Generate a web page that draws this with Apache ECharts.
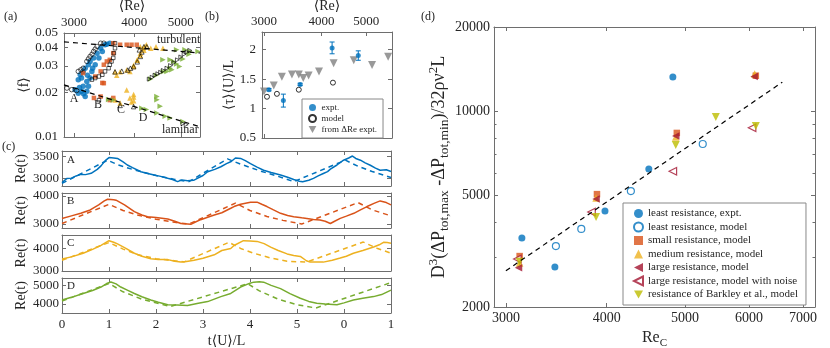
<!DOCTYPE html>
<html>
<head>
<meta charset="utf-8">
<script src="https://cdn.jsdelivr.net/npm/echarts@6/dist/echarts.min.js"></script>
<style>
  html, body { margin: 0; padding: 0; background: #fff; }
  #chart { width: 830px; height: 348px; }
</style>
</head>
<body>
<div id="chart"></div>
<script>
// ---------- panel (a): <f> vs <Re>, log-log ----------
const aExptA = [[3015,0.0208],[3062,0.0197],[3110,0.0203],[3135,0.0219],[3190,0.0203],[3165,0.0187],[3215,0.0219],
  [3062,0.0243],[3090,0.0262],[3110,0.0249],[3135,0.0276],[3165,0.029],[3190,0.0236],[3215,0.0306],[3240,0.0322],
  [3240,0.0249],[3268,0.0276],[3295,0.034],[3320,0.0306],[3350,0.0366],[3380,0.034],[3408,0.0395],[3435,0.0376],
  [3480,0.0417],[3510,0.042],[3560,0.0427],[3140,0.0195],[3080,0.0215],[3200,0.026],[3280,0.029]];
const aModelA = [[2900,0.0213],[2967,0.0208],[3038,0.0205],[3062,0.0276],[3135,0.029],[3190,0.0322],[3240,0.0348],
  [3295,0.0376],[3350,0.0406],[3408,0.0427],[3460,0.0427],[3100,0.0283],[3215,0.0335],[3270,0.036],[3320,0.039]];
const aExptB = [[3620,0.0427],[3740,0.0417],[3860,0.0417],[3950,0.0417],[4050,0.0417],[3620,0.0366],[3560,0.033],
  [3510,0.0322],[3460,0.0306],[3408,0.0276],[3320,0.0255],[3435,0.0231],[3408,0.0187],[3560,0.0177],[3300,0.0183],
  [3620,0.0183],[3135,0.0269],[3460,0.023]];
const aModelB = [[3268,0.0243],[3320,0.0249],[3380,0.0255],[3435,0.0262],[3480,0.0276],[3540,0.029],[3560,0.0306],
  [3590,0.0322],[3620,0.034],[3630,0.0366],[3650,0.0395],[3650,0.0427],[3380,0.0177]];
const aExptC = [[4175,0.0395],[4240,0.0417],[4330,0.0395],[4590,0.0395],[4120,0.0404],[4200,0.0404],[4440,0.0404],
  [4120,0.0366],[4060,0.033],[3990,0.0298],[3920,0.0276],[3650,0.0274],[3680,0.026],[3740,0.0274],[3860,0.0282],
  [3990,0.0304],[4060,0.0328],[4120,0.0355],[4190,0.0383],[3860,0.0207],[3990,0.0186],[3950,0.0172],[3920,0.0183],
  [3990,0.0193],[3650,0.0177],[3740,0.0169],[3990,0.0175]];
const aModelC = [[3650,0.0274],[3770,0.0277],[3880,0.0282],[3990,0.0297],[4060,0.032],[4120,0.0348],[4150,0.0373],
  [4190,0.0404],[4250,0.0404],[3740,0.0163],[3990,0.016],[4100,0.0385],[3930,0.029]];
const aExptD = [[4900,0.0386],[5100,0.0386],[5220,0.0376],[5430,0.0376],[4590,0.033],[4750,0.033],[4830,0.0322],
  [4970,0.0298],[4790,0.0283],[4680,0.0276],[4460,0.0187],[4460,0.0178],[4530,0.0161],[4750,0.0134],[4640,0.0138],
  [4240,0.0153],[4150,0.0156],[3540,0.0179],[3620,0.0177],[4460,0.0145],[5050,0.0127],
  [4330,0.0245],[4450,0.026],[4600,0.0275],[4750,0.029],[4900,0.031],[5050,0.0335],[5200,0.036]];
const aModelD = [[4300,0.0245],[4360,0.0252],[4420,0.026],[4480,0.0266],[4540,0.0272],[4600,0.028],[4680,0.029],
  [4760,0.0302],[4840,0.0316],[4920,0.033],[5000,0.0345],[5080,0.036],[5150,0.0372],[5220,0.0382],
  [5050,0.0123],[5130,0.0121]];
const aTurbulent = [[2860,0.0436],[5480,0.0367]];
const aLaminar = [[2860,0.0224],[5480,0.0117]];
const aTicksX = [3000,4000,5000];
const aTicksY = [0.01,0.02,0.03,0.04,0.05];

// ---------- panel (b): <tau><U>/L vs <Re> ----------
const bExpt = [[3075,1.32,0.02],[3305,1.135,0.11],[3594,1.41,0.02],[4217,2.03,0.1],[4807,1.9,0.08]];
const bModel = [[3045,1.2],[3200,1.25],[3570,1.32],[4235,1.44]];
const bFromDRe = [[3000,1.29],[3150,1.39],[3280,1.54],[3450,1.58],[3570,1.58],[3650,1.52],[3750,1.56],
  [3950,1.63],[4250,1.77],[4700,1.82],[5150,1.74],[5580,1.88]];
const bTicksY = [0.5,1,1.5,2];

// ---------- panel (c): Re(t) traces ----------
const cSolidA = [[0,2900],[0.1,2990],[0.2,3000],[0.3,3050],[0.4,3085],[0.5,3080],[0.62,3110],[0.75,3200],[0.83,3280],
  [0.92,3400],[1.0,3470],[1.1,3460],[1.18,3450],[1.3,3370],[1.39,3300],[1.5,3240],[1.68,3145],[1.8,3110],[1.96,3070],
  [2.1,3040],[2.25,2995],[2.35,2970],[2.46,2920],[2.55,2960],[2.67,2940],[2.8,2950],[2.88,2995],[3.0,3060],[3.1,3145],
  [3.25,3200],[3.38,3260],[3.5,3330],[3.6,3380],[3.69,3460],[3.8,3450],[3.9,3400],[4.01,3330],[4.15,3250],[4.29,3180],
  [4.45,3130],[4.65,3070],[4.8,3020],[4.93,2970],[5.05,2930],[5.12,2915],[5.25,2950],[5.35,2995],[5.45,3050],
  [5.56,3105],[5.65,3150],[5.71,3205],[5.85,3300],[5.99,3410],[6.1,3460],[6.18,3505],[6.25,3450],[6.35,3410],
  [6.45,3350],[6.56,3295],[6.67,3230],[6.77,3180],[6.9,3190],[7,3150]];
const cDashA = [[0,2880],[0.97,3410],[1.2,3300],[1.5,3200],[2.0,3060],[2.4,2970],[2.7,2920],[3.52,3440],[3.8,3320],
  [4.2,3170],[4.6,3040],[4.93,2920],[6.03,3410],[6.3,3270],[6.6,3150],[7,3015]];
const cSolidB = [[0,3200],[0.2,3290],[0.4,3380],[0.6,3500],[0.78,3680],[0.9,3820],[0.97,3880],[1.1,3860],[1.15,3845],
  [1.33,3680],[1.54,3440],[1.7,3320],[1.82,3260],[2.0,3230],[2.25,3180],[2.4,3100],[2.53,3020],[2.74,2990],[2.85,3080],
  [2.95,3155],[3.1,3240],[3.24,3320],[3.4,3400],[3.59,3560],[3.66,3620],[3.8,3700],[4.01,3770],[4.15,3775],[4.25,3700],
  [4.36,3620],[4.5,3500],[4.65,3380],[4.8,3300],[4.93,3260],[5.1,3220],[5.21,3200],[5.35,3160],[5.49,3140],[5.6,3100],
  [5.71,3020],[5.8,3100],[5.92,3200],[6.05,3280],[6.21,3380],[6.35,3500],[6.49,3620],[6.65,3740],[6.77,3820],
  [6.9,3760],[7,3680]];
const cDashB = [[0,3020],[1.0,3700],[1.3,3480],[1.6,3320],[2.0,3170],[2.4,3060],[2.7,3000],[3.69,3740],[4.0,3480],
  [4.36,3270],[4.7,3130],[5.1,3000],[6.3,3760],[6.6,3500],[7,3290]];
const cSolidC = [[0,3530],[0.2,3620],[0.45,3780],[0.65,3950],[0.83,4125],[1.0,4330],[1.1,4260],[1.18,4190],[1.35,4000],
  [1.54,3780],[1.7,3650],[1.89,3540],[2.05,3510],[2.25,3500],[2.4,3430],[2.53,3390],[2.65,3420],[2.81,3470],[3.0,3560],
  [3.24,3710],[3.4,3900],[3.59,3990],[3.66,4120],[3.86,4330],[4.0,4320],[4.15,4300],[4.3,4200],[4.44,4050],[4.6,3900],
  [4.79,3750],[4.93,3680],[5.07,3640],[5.2,3450],[5.28,3390],[5.45,3390],[5.56,3390],[5.75,3470],[5.92,3570],
  [6.05,3650],[6.2,3780],[6.4,3900],[6.63,4055],[6.75,4150],[6.84,4260],[6.92,4250],[7,4220]];
const cDashC = [[0,3470],[1.0,4250],[1.3,3960],[1.6,3720],[2.0,3540],[2.6,3400],[3.55,4260],[3.8,3990],[4.08,3780],
  [4.44,3570],[4.79,3430],[5.2,3390],[6.41,4270],[6.7,4000],[7,3780]];
const cSolidD = [[0,4210],[0.2,4350],[0.45,4560],[0.65,4720],[0.83,4910],[0.95,5100],[1.04,5180],[1.15,5080],
  [1.25,4910],[1.4,4730],[1.54,4560],[1.7,4380],[1.89,4210],[2.05,4080],[2.25,3950],[2.45,3930],[2.67,3910],[2.9,4030],
  [3.1,4120],[3.38,4390],[3.59,4560],[3.8,4910],[4.0,5120],[4.08,5175],[4.2,5190],[4.29,5175],[4.45,5000],[4.65,4825],
  [4.85,4550],[5.07,4300],[5.25,4130],[5.42,4035],[5.6,3990],[5.85,3950],[6.0,4050],[6.2,4210],[6.4,4300],[6.63,4390],
  [6.8,4500],[7,4740]];
const cDashD = [[0,4150],[1.0,5100],[1.3,4650],[1.7,4250],[2.3,3850],[3.95,5090],[4.2,4700],[4.6,4250],[5.0,3950],
  [5.4,3770],[7,5150]];
const cTicksA = [3000,3500], cTicksB = [3000,4000], cTicksC = [3000,4000], cTicksD = [4000,5000];

// ---------- panel (d): pressure amplitude vs Re_C ----------
const dLeastExpt = [[3140,3525],[3450,2780],[3980,4400],[4510,6220],[4830,13270]];
const dLeastModel = [[3460,3300],[3720,3800],[4285,5190],[5260,7640]];
const dSmallModel = [[3120,3040],[3890,5060],[4885,8370],[6120,13400]];
const dMediumModel = [[3120,2870],[3880,4900],[4870,8100],[6100,13600]];
const dLargeModel = [[3110,2760],[3880,4860],[4870,8160],[6090,13300]];
const dLargeNoise = [[3100,2970],[3830,4370],[4830,6110],[6055,8730]];
const dBarkley = [[3120,2900],[3880,4190],[4870,7580],[5460,9540],[6120,8860]];
const dFit = [[3000,2695],[6600,12700]];
const dTicksX = [3000,4000,5000,6000,7000];
const dTicksY = [2000,5000,10000,20000];
const dMinorY = [3000,4000,6000,7000,8000,9000];

const FONT = "'Liberation Serif','DejaVu Serif',serif";
const AX = '#6e6e6e';
const TXT = '#262626';
const BLUE = '#0072BD', ORANGE = '#D95319', YELLOW = '#EDB120', GREEN = '#77AC30', RED = '#A2142F', OLIVE = '#BDBD00';
const TRI_R = 'path://M0,0L10,5L0,10Z';
const TRI_L = 'path://M10,0L0,5L10,10Z';
const TRI_D = 'path://M0,0L10,0L5,9Z';
const lg = Math.log10;
const logPts = (arr) => arr.map((p) => [lg(p[0]), lg(p[1])]);
const logX = (arr) => arr.map((p) => [lg(p[0]), p[1]]);
const plain = (v) => String(v);
const pow10 = (v) => String(Math.round(Math.pow(10, v)));

const xAxes = [], yAxes = [];
function axis(list, grid, position, min, max, o) {
  o = o || {};
  list.push({
    type: 'value', gridIndex: grid, position: position, min: min, max: max,
    interval: o.interval,
    axisLine: { show: o.line !== false, onZero: false, lineStyle: { color: AX, width: 1 } },
    axisTick: { show: true, inside: true, length: o.tickLen || 4, lineStyle: { color: AX }, customValues: o.ticks },
    axisLabel: {
      show: !!o.labels, customValues: Array.isArray(o.labels) ? o.labels : undefined,
      formatter: o.fmt || plain, color: TXT, fontFamily: FONT, fontSize: o.fs || 13, margin: o.margin || 5,
      hideOverlap: false, showMinLabel: true, showMaxLabel: true,
    },
    splitLine: { show: false },
    name: o.name, nameLocation: 'middle', nameGap: o.nameGap, nameRotate: o.nameRotate,
    nameTextStyle: Object.assign({ fontFamily: FONT, fontSize: 14, color: TXT }, o.nameStyle || {}),
  });
  return list.length - 1;
}

const grids = [
  { left: 64, top: 33, width: 136, height: 104 },
  { left: 262, top: 32, width: 130, height: 106 },
  { left: 62, top: 151, width: 329, height: 35 },
  { left: 62, top: 193, width: 329, height: 35 },
  { left: 62, top: 235, width: 329, height: 36 },
  { left: 62, top: 278, width: 329, height: 35 },
  { left: 494, top: 27, width: 321, height: 280 },
];

// (a)
const aXmin = lg(2860), aXmax = lg(5480);
const axA = axis(xAxes, 0, 'top', aXmin, aXmax, { ticks: aTicksX.map(lg), labels: aTicksX.map(lg),
  fmt: pow10, margin: 4, name: '⟨Re⟩', nameGap: 20 });
axis(xAxes, 0, 'bottom', aXmin, aXmax, { ticks: aTicksX.map(lg) });
const ayA = axis(yAxes, 0, 'left', lg(0.01), lg(0.05), { ticks: aTicksY.map(lg), labels: aTicksY.map(lg),
  fmt: (v) => Math.pow(10, v).toFixed(2), margin: 6, name: '⟨f⟩', nameGap: 30, nameRotate: 90 });
axis(yAxes, 0, 'right', lg(0.01), lg(0.05), { ticks: aTicksY.map(lg) });

// (b)
const bXmin = lg(2970), bXmax = lg(5690);
const axB = axis(xAxes, 1, 'top', bXmin, bXmax, { ticks: aTicksX.map(lg), labels: aTicksX.map(lg),
  fmt: pow10, margin: 4, name: '⟨Re⟩', nameGap: 19 });
axis(xAxes, 1, 'bottom', bXmin, bXmax, { ticks: aTicksX.map(lg) });
const ayB = axis(yAxes, 1, 'left', 0.5, 2.3, { ticks: bTicksY, labels: bTicksY, margin: 6,
  name: '⟨τ⟩⟨U⟩/L', nameGap: 25, nameRotate: 90 });
axis(yAxes, 1, 'right', 0.5, 2.3, { ticks: bTicksY });

// (c)
const cRanges = [[2820, 3620, cTicksA], [2860, 4100, cTicksB], [3000, 4580, cTicksC], [3500, 5400, cTicksD]];
const cAx = cRanges.map((r, i) => {
  const g = 2 + i;
  const last = i === 3;
  const xi = axis(xAxes, g, 'bottom', 0, 7, { interval: 1, labels: last, margin: 5,
    fmt: (v) => String(v > 5 ? v - 6 : v),
    name: last ? 't⟨U⟩/L' : undefined, nameGap: 21 });
  axis(xAxes, g, 'top', 0, 7, { interval: 1 });
  const yi = axis(yAxes, g, 'left', r[0], r[1], { ticks: r[2], labels: r[2], margin: 3,
    name: 'Re(t)', nameGap: 34, nameRotate: 90 });
  axis(yAxes, g, 'right', r[0], r[1], { ticks: r[2] });
  return [xi, yi];
});

// (d)
const dXmin = lg(2900), dXmax = lg(7245), dYmin = lg(2000), dYmax = lg(20000);
const axD = axis(xAxes, 6, 'bottom', dXmin, dXmax, { ticks: dTicksX.map(lg), labels: dTicksX.map(lg), fs: 14,
  fmt: pow10, margin: 4,
  name: '{t|Re}{b|C}', nameGap: 17,
  nameStyle: { rich: {
    t: { fontFamily: FONT, fontSize: 16, color: TXT, lineHeight: 22 },
    b: { fontFamily: FONT, fontSize: 11, color: TXT, verticalAlign: 'bottom', lineHeight: 12 } } } });
axis(xAxes, 6, 'top', dXmin, dXmax, { ticks: dTicksX.map(lg) });
const ayD = axis(yAxes, 6, 'left', dYmin, dYmax, { ticks: dTicksY.map(lg), labels: dTicksY.map(lg), fs: 14,
  fmt: pow10, margin: 4,
  name: '{t|D}{p|3}{t|(ΔP}{b|tot,max}{t| -ΔP}{b|tot,min}{t|)/32ρν}{p|2}{t|L}', nameGap: 38, nameRotate: 90,
  nameStyle: { rich: {
    t: { fontFamily: FONT, fontSize: 18, color: TXT, lineHeight: 24 },
    p: { fontFamily: FONT, fontSize: 13, color: TXT, verticalAlign: 'top', lineHeight: 13 },
    b: { fontFamily: FONT, fontSize: 13.5, color: TXT, verticalAlign: 'bottom', lineHeight: 13 } } } });
axis(yAxes, 6, 'right', dYmin, dYmax, { ticks: dTicksY.map(lg) });
axis(yAxes, 6, 'left', dYmin, dYmax, { ticks: dMinorY.map(lg), tickLen: 2.5, line: false });
axis(yAxes, 6, 'right', dYmin, dYmax, { ticks: dMinorY.map(lg), tickLen: 2.5, line: false });

function scatter(name, xi, yi, data, symbol, size, style, z) {
  return { name: name, type: 'scatter', xAxisIndex: xi, yAxisIndex: yi, data: data, symbol: symbol,
    symbolSize: size, itemStyle: style, z: z || 2, silent: true };
}
function line(xi, yi, data, color, dashed, width) {
  return { type: 'line', xAxisIndex: xi, yAxisIndex: yi, data: data, showSymbol: false, silent: true,
    lineStyle: { color: color, width: width || 1.5, type: dashed ? [5, 4] : 'solid' } };
}
const openBlack = { color: 'rgba(0,0,0,0)', borderColor: '#000', borderWidth: 0.8 };

const series = [
  // (a)
  line(axA, ayA, logPts(aTurbulent), '#000', true, 1.2),
  line(axA, ayA, logPts(aLaminar), '#000', true, 1.2),
  scatter(null, axA, ayA, logPts(aExptA), 'circle', 5.5, { color: BLUE }),
  scatter(null, axA, ayA, logPts(aExptB), 'rect', 4.5, { color: ORANGE }),
  scatter(null, axA, ayA, logPts(aExptC), 'triangle', 5.5, { color: YELLOW }),
  scatter(null, axA, ayA, logPts(aExptD), TRI_R, 5.5, { color: GREEN }),
  scatter(null, axA, ayA, logPts(aModelA), 'circle', 4.5, openBlack, 3),
  scatter(null, axA, ayA, logPts(aModelB), 'rect', 3.5, openBlack, 3),
  scatter(null, axA, ayA, logPts(aModelC), 'triangle', 4.5, openBlack, 3),
  scatter(null, axA, ayA, logPts(aModelD), TRI_R, 4, openBlack, 3),
  // (b)
  {
    type: 'custom', xAxisIndex: axB, yAxisIndex: ayB, silent: true, z: 2,
    data: bExpt.map((p) => [lg(p[0]), p[1], p[2]]),
    renderItem: function (params, api) {
      const x = api.value(0), y = api.value(1), e = api.value(2);
      const t = api.coord([x, y + e]), b = api.coord([x, y - e]);
      const st = { stroke: BLUE, lineWidth: 1 };
      return { type: 'group', children: [
        { type: 'line', shape: { x1: t[0], y1: t[1], x2: b[0], y2: b[1] }, style: st },
        { type: 'line', shape: { x1: t[0] - 2.5, y1: t[1], x2: t[0] + 2.5, y2: t[1] }, style: st },
        { type: 'line', shape: { x1: b[0] - 2.5, y1: b[1], x2: b[0] + 2.5, y2: b[1] }, style: st },
      ] };
    },
  },
  scatter('expt.', axB, ayB, logX(bExpt), 'circle', 5, { color: BLUE }, 3),
  scatter('model', axB, ayB, logX(bModel), 'circle', 5, { color: '#fff', borderColor: '#000', borderWidth: 1 }),
  scatter('from ΔRe expt.', axB, ayB, logX(bFromDRe), TRI_D, 8, { color: '#808080' }),
  // (c)
  line(cAx[0][0], cAx[0][1], cSolidA, BLUE, false), line(cAx[0][0], cAx[0][1], cDashA, BLUE, true),
  line(cAx[1][0], cAx[1][1], cSolidB, ORANGE, false), line(cAx[1][0], cAx[1][1], cDashB, ORANGE, true),
  line(cAx[2][0], cAx[2][1], cSolidC, YELLOW, false), line(cAx[2][0], cAx[2][1], cDashC, YELLOW, true),
  line(cAx[3][0], cAx[3][1], cSolidD, GREEN, false), line(cAx[3][0], cAx[3][1], cDashD, GREEN, true),
  // (d)
  line(axD, ayD, logPts(dFit), '#000', true, 1.2),
  scatter('least resistance, expt.', axD, ayD, logPts(dLeastExpt), 'circle', 7, { color: BLUE }),
  scatter('least resistance, model', axD, ayD, logPts(dLeastModel), 'circle', 7, { color: '#fff', borderColor: BLUE, borderWidth: 1.2 }),
  scatter('small resistance, model', axD, ayD, logPts(dSmallModel), 'rect', 6.5, { color: ORANGE }),
  scatter('medium resistance, model', axD, ayD, logPts(dMediumModel), 'triangle', 7.5, { color: YELLOW }),
  scatter('large resistance, model', axD, ayD, logPts(dLargeModel), TRI_L, 7.5, { color: RED }),
  scatter('large resistance, model with noise', axD, ayD, logPts(dLargeNoise), TRI_L, 7.5, { color: '#fff', borderColor: RED, borderWidth: 1.2 }),
  scatter('resistance of Barkley et al., model', axD, ayD, logPts(dBarkley), TRI_D, 8, { color: OLIVE }),
];

function txt(x, y, s, size, align) {
  return { type: 'text', x: x, y: y, silent: true,
    style: { text: s, fontFamily: FONT, fontSize: size || 12, fill: TXT, align: align || 'left', verticalAlign: 'middle' } };
}

const chart = echarts.init(document.getElementById('chart'), null, { renderer: 'canvas' });
chart.setOption({
  animation: false,
  backgroundColor: '#fff',
  grid: grids.map((g) => Object.assign({ show: false, containLabel: false, outerBoundsMode: 'none' }, g)),
  xAxis: xAxes,
  yAxis: yAxes,
  legend: [
    {
      data: ['expt.', 'model', 'from ΔRe expt.'],
      orient: 'vertical', left: 302, top: 99, itemWidth: 8, itemHeight: 7, itemGap: 2,
      padding: [4, 6, 4, 6], borderColor: '#888', borderWidth: 1, backgroundColor: '#fff',
      textStyle: { fontFamily: FONT, fontSize: 9, color: TXT }, selectedMode: false,
    },
    {
      data: ['least resistance, expt.', 'least resistance, model', 'small resistance, model', 'medium resistance, model',
        'large resistance, model', 'large resistance, model with noise', 'resistance of Barkley et al., model'],
      orient: 'vertical', left: 623, top: 203, itemWidth: 9, itemHeight: 9, itemGap: 2.5,
      padding: [5, 8, 5, 10], borderColor: '#888', borderWidth: 1, backgroundColor: '#fff',
      textStyle: { fontFamily: FONT, fontSize: 11, color: TXT }, selectedMode: false,
    },
  ],
  graphic: [
    txt(4, 17, '(a)'), txt(205, 17, '(b)'), txt(2, 147, '(c)'), txt(421, 17, '(d)'),
    txt(157, 40, 'turbulent', 12), txt(162, 130, 'laminar', 12),
    txt(74, 99, 'A', 12, 'center'), txt(98, 105, 'B', 12, 'center'), txt(121, 110, 'C', 12, 'center'), txt(143, 118, 'D', 12, 'center'),
    txt(67, 160, 'A', 11), txt(67, 201, 'B', 11), txt(67, 243, 'C', 11), txt(67, 286, 'D', 11),
  ],
  series: series,
});
</script>
</body>
</html>
